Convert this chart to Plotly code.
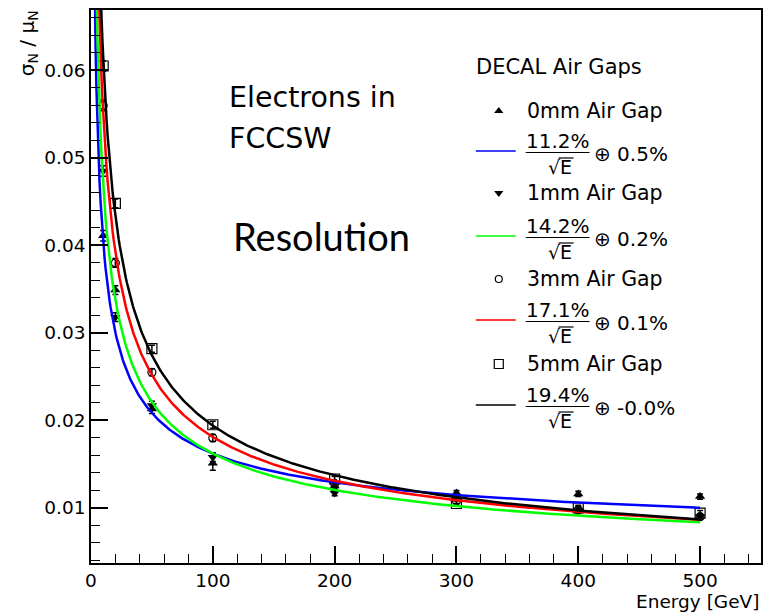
import numpy as np
import plotly.graph_objects as go

# Beam energies [GeV] and measured relative resolution sigma_N / mu_N
energy = [10, 20, 50, 100, 200, 300, 400, 500]
gap0mm = [0.0411, 0.0349, 0.0213, 0.0151, 0.0125, 0.0117, 0.0116, 0.0113]
gap1mm = [0.0485, 0.0318, 0.0217, 0.0158, 0.0117, 0.0113, 0.0097, 0.0090]
gap3mm = [0.0560, 0.0380, 0.0255, 0.0180, 0.0128, 0.0108, 0.0098, 0.0090]
gap5mm = [0.0605, 0.0448, 0.0282, 0.0195, 0.0133, 0.0105, 0.0100, 0.0094]
err0mm = [0.0006, 0.0005, 0.0005, 0.0008, 0.0003, 0.0003, 0.0003, 0.0003]
err1mm = [0.0006, 0.0005, 0.0005, 0.0005, 0.0003, 0.0003, 0.0003, 0.0003]
err3mm = [0.0006, 0.0005, 0.0004, 0.0004, 0.0003, 0.0003, 0.0003, 0.0003]
err5mm = [0.0006, 0.0005, 0.0004, 0.0004, 0.0003, 0.0003, 0.0003, 0.0003]

# Fit results: stochastic term a [%] and constant term b [%]
gap_labels = ["0mm Air Gap", "1mm Air Gap", "3mm Air Gap", "5mm Air Gap"]
stoch_pct = [11.2, 14.2, 17.1, 19.4]
const_pct = [0.5, 0.2, 0.1, -0.0]
fit_colors = ["#0000ff", "#00ff00", "#ff0000", "#000000"]

FONT = "DejaVu Sans"
W, H = 764, 612
L, R, T, B = 91, 763, 10, 563


def px(x):
    return (x - L) / (R - L)


def py(y):
    return (B - y) / (B - T)


fig = go.Figure()

markers = [
    dict(symbol="triangle-up", size=9, color="black"),
    dict(symbol="triangle-down", size=9, color="black"),
    dict(symbol="circle-open", size=8, color="black", line=dict(width=1.2)),
    dict(symbol="square-open", size=10, color="black", line=dict(width=1.2)),
]
series = [gap0mm, gap1mm, gap3mm, gap5mm]
errors = [err0mm, err1mm, err3mm, err5mm]

for vals, errs, mk, name in zip(series, errors, markers, gap_labels):
    fig.add_trace(go.Scatter(
        x=energy, y=vals, mode="markers", name=name, marker=mk,
        error_y=dict(type="data", array=errs, color="black", thickness=1.5, width=3),
        showlegend=False,
    ))

# Fitted curves a/sqrt(E) + b
e_fit = np.linspace(2, 500, 600)
for a, b, col in zip(stoch_pct, const_pct, fit_colors):
    fig.add_trace(go.Scatter(
        x=e_fit, y=a / 100 / np.sqrt(e_fit) + b / 100, mode="lines",
        line=dict(color=col, width=2.5), showlegend=False, hoverinfo="skip",
    ))

axis_common = dict(
    showgrid=False, zeroline=False, showline=True, linecolor="black", linewidth=1.5,
    mirror=True, ticks="inside", ticklen=17, tickwidth=1.8, tickcolor="black",
    tickfont=dict(family=FONT, size=18.5, color="black"),
)
fig.update_xaxes(
    range=[0, 550], tickvals=[0, 100, 200, 300, 400, 500],
    minor=dict(ticks="inside", ticklen=9, tickwidth=1.2, tickcolor="black", dtick=20, tick0=0, showgrid=False),
    **axis_common,
)
fig.update_yaxes(
    range=[0.0037, 0.0669], tickvals=[0.01, 0.02, 0.03, 0.04, 0.05, 0.06],
    ticktext=["0.01", "0.02", "0.03", "0.04", "0.05", "0.06"],
    minor=dict(ticks="inside", ticklen=9, tickwidth=1.2, tickcolor="black", dtick=0.002, tick0=0, showgrid=False),
    **axis_common,
)

annotations = []
shapes = []


def text(x, y, s, size=20, xanchor="left", family=FONT, angle=0):
    annotations.append(dict(
        x=px(x), y=py(y), xref="paper", yref="paper", text=s, showarrow=False,
        xanchor=xanchor, yanchor="middle", textangle=angle,
        font=dict(family=family, size=size, color="black"),
    ))


# Axis titles
text(763, 601, "Energy [GeV]", size=18.5, xanchor="right")
text(28, 43, "σ<sub>N</sub> / μ<sub>N</sub>", size=20, xanchor="center", angle=-90)

# Plot labels
text(227, 98, "Electrons in", size=28.5)
text(227, 138, "FCCSW", size=28.5)
text(231, 236, "Resolution", size=38, family="Lato")

# Legend
text(475, 67, "DECAL Air Gaps", size=21)
marker_rows = [111, 193, 279, 364]
line_rows = [151, 236, 320, 405]
for i in range(4):
    ym = marker_rows[i]
    mk = dict(markers[i])
    mk["size"] = mk["size"] - 1
    fig.add_trace(go.Scatter(
        x=[500], y=[ym], mode="markers", marker=mk, xaxis="x2", yaxis="y2",
        showlegend=False, hoverinfo="skip",
    ))
    text(526, ym, gap_labels[i], size=20.5)

    yc = line_rows[i]
    shapes.append(dict(type="line", xref="paper", yref="paper",
                       x0=px(477), x1=px(517), y0=py(yc), y1=py(yc),
                       line=dict(color=fit_colors[i], width=1.5)))
    text(559, yc - 10, f"{stoch_pct[i]:.1f}%", size=20, xanchor="center")
    shapes.append(dict(type="line", xref="paper", yref="paper",
                       x0=px(527), x1=px(591), y0=py(yc + 1.5), y1=py(yc + 1.5),
                       line=dict(color="black", width=1.2)))
    text(561, yc + 16, "√E", size=19, xanchor="center")
    shapes.append(dict(type="line", xref="paper", yref="paper",
                       x0=px(560), x1=px(575), y0=py(yc + 7), y1=py(yc + 7),
                       line=dict(color="black", width=1.2)))
    text(593, yc + 3, f"⊕ {const_pct[i]:.1f}%", size=20)

fig.update_layout(
    width=W, height=H,
    margin=dict(l=L, r=W - R, t=T, b=H - B),
    paper_bgcolor="white", plot_bgcolor="white",
    annotations=annotations, shapes=shapes,
    xaxis2=dict(domain=[0, 1], range=[L, R], visible=False, overlaying="x", anchor="y2"),
    yaxis2=dict(domain=[0, 1], range=[B, T], visible=False, overlaying="y", anchor="x2"),
)

fig.write_html("out.html")
